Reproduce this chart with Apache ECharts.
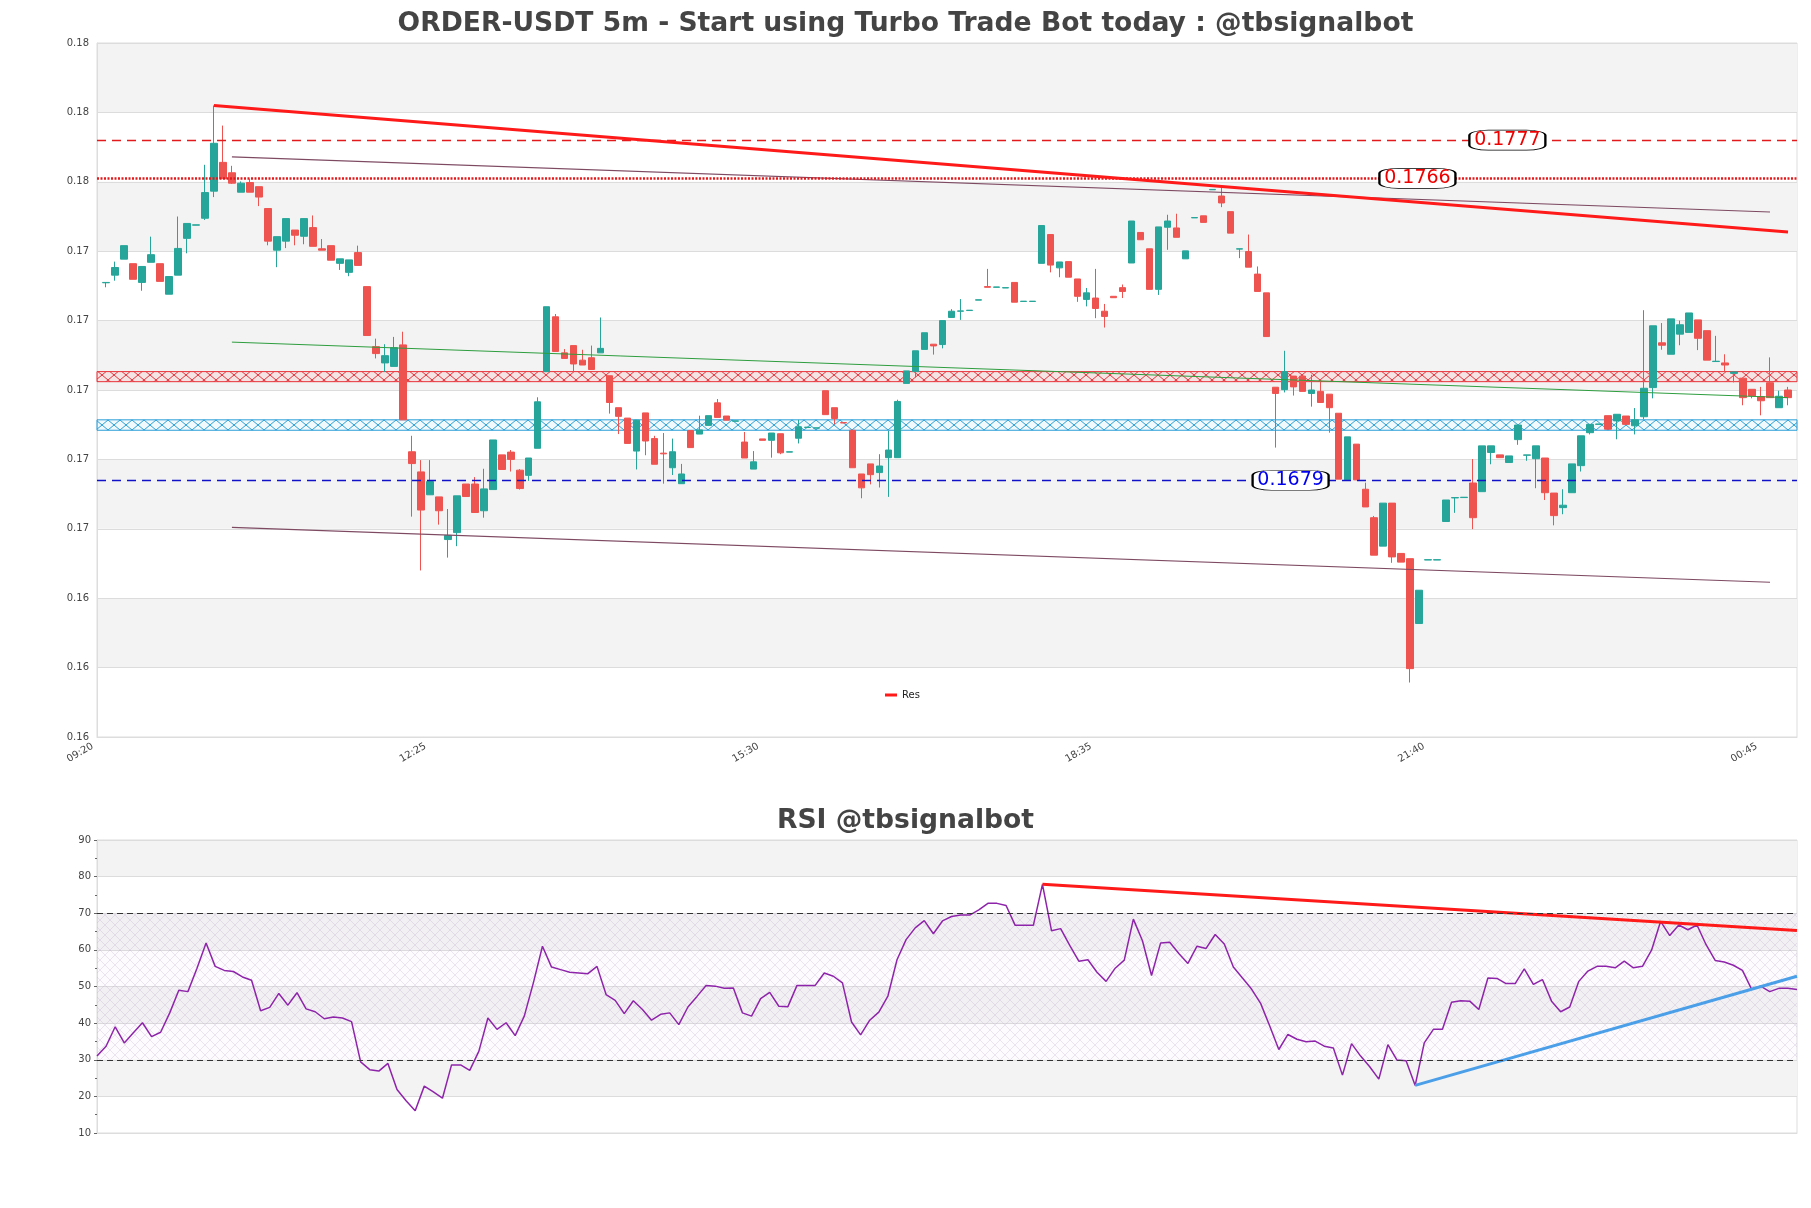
<!DOCTYPE html>
<html><head><meta charset="utf-8">
<script src="https://cdn.jsdelivr.net/npm/echarts@6/dist/echarts.min.js"></script>
<style>html,body{margin:0;padding:0;background:#fff}#c{width:1811px;height:1208px}</style>
</head><body><div id="c"></div>
<script>
// ---------- DATA ----------
const opens = [0.17359,0.17381,0.17427,0.17414,0.17360,0.17418,0.17414,0.17326,0.17381,0.17487,0.17525,0.17545,0.17623,0.17706,0.17676,0.17620,0.17648,0.17636,0.17573,0.17453,0.17479,0.17511,0.17493,0.17518,0.17457,0.17466,0.17415,0.17389,0.17446,0.17348,0.17175,0.17128,0.17118,0.17180,0.16872,0.16814,0.16748,0.16742,0.16619,0.16639,0.16779,0.16779,0.16702,0.16763,0.16863,0.16871,0.16819,0.16804,0.16882,0.17103,0.17261,0.17157,0.17178,0.17136,0.17143,0.17157,0.17091,0.16999,0.16969,0.16874,0.16984,0.16910,0.16868,0.16826,0.16780,0.16933,0.16923,0.16948,0.17013,0.16975,0.16960,0.16900,0.16822,0.16909,0.16905,0.16924,0.16871,0.16911,0.16942,0.16940,0.17048,0.16999,0.16956,0.16934,0.16808,0.16837,0.16812,0.16855,0.16855,0.17069,0.17103,0.17167,0.17182,0.17181,0.17259,0.17277,0.17279,0.17309,0.17348,0.17346,0.17344,0.17360,0.17305,0.17305,0.17415,0.17498,0.17402,0.17420,0.17370,0.17311,0.17315,0.17277,0.17320,0.17345,0.17416,0.17504,0.17457,0.17340,0.17519,0.17517,0.17428,0.17546,0.17552,0.17627,0.17609,0.17564,0.17456,0.17449,0.17384,0.17330,0.17058,0.17051,0.17090,0.17090,0.17040,0.17046,0.17038,0.16983,0.16791,0.16894,0.16764,0.16682,0.16600,0.16724,0.16579,0.16564,0.16377,0.16560,0.16560,0.16671,0.16739,0.16740,0.16782,0.16757,0.16870,0.16863,0.16841,0.16907,0.16862,0.16852,0.16854,0.16753,0.16711,0.16754,0.16832,0.16927,0.16951,0.16976,0.16961,0.16975,0.16947,0.16973,0.17057,0.17186,0.17153,0.17211,0.17216,0.17252,0.17221,0.17132,0.17128,0.17098,0.17084,0.17052,0.17031,0.17071,0.16999,0.17050];
const closes = [0.17360,0.17403,0.17466,0.17369,0.17406,0.17440,0.17363,0.17377,0.17458,0.17530,0.17526,0.17619,0.17761,0.17659,0.17646,0.17646,0.17620,0.17606,0.17479,0.17492,0.17544,0.17496,0.17544,0.17464,0.17453,0.17424,0.17428,0.17425,0.17409,0.17207,0.17155,0.17149,0.17172,0.16964,0.16838,0.16704,0.16786,0.16702,0.16631,0.16745,0.16743,0.16697,0.16765,0.16906,0.16821,0.16850,0.16766,0.16854,0.17016,0.17290,0.17161,0.17141,0.17125,0.17122,0.17109,0.17170,0.17014,0.16974,0.16896,0.16963,0.16903,0.16836,0.16866,0.16872,0.16808,0.16884,0.16935,0.16976,0.16971,0.16963,0.16961,0.16854,0.16843,0.16905,0.16926,0.16869,0.16872,0.16944,0.16943,0.16941,0.16979,0.16968,0.16955,0.16826,0.16768,0.16806,0.16831,0.16877,0.17017,0.17105,0.17163,0.17215,0.17177,0.17250,0.17277,0.17278,0.17280,0.17310,0.17346,0.17347,0.17345,0.17303,0.17306,0.17306,0.17524,0.17410,0.17419,0.17375,0.17320,0.17330,0.17285,0.17262,0.17316,0.17334,0.17537,0.17483,0.17340,0.17520,0.17537,0.17490,0.17451,0.17547,0.17533,0.17628,0.17589,0.17502,0.17457,0.17404,0.17334,0.17204,0.17040,0.17103,0.17059,0.17046,0.17050,0.17014,0.16999,0.16793,0.16915,0.16791,0.16713,0.16574,0.16724,0.16569,0.16554,0.16247,0.16473,0.16561,0.16561,0.16733,0.16740,0.16741,0.16682,0.16889,0.16889,0.16855,0.16860,0.16949,0.16863,0.16889,0.16754,0.16688,0.16718,0.16837,0.16918,0.16951,0.16952,0.16937,0.16980,0.16951,0.16964,0.17055,0.17235,0.17179,0.17255,0.17238,0.17272,0.17199,0.17136,0.17133,0.17122,0.17102,0.17028,0.17033,0.17019,0.17028,0.17032,0.17028];
const lows = [0.17346,0.17365,0.17427,0.17369,0.17336,0.17418,0.17363,0.17326,0.17381,0.17444,0.17525,0.17540,0.17606,0.17659,0.17644,0.17620,0.17620,0.17580,0.17467,0.17404,0.17459,0.17467,0.17470,0.17464,0.17453,0.17424,0.17396,0.17378,0.17409,0.17207,0.17141,0.17102,0.17118,0.16964,0.16685,0.16530,0.16748,0.16662,0.16567,0.16600,0.16743,0.16697,0.16682,0.16763,0.16821,0.16815,0.16763,0.16788,0.16882,0.17103,0.17161,0.17141,0.17103,0.17122,0.17109,0.17157,0.16982,0.16923,0.16896,0.16821,0.16862,0.16836,0.16780,0.16805,0.16780,0.16884,0.16923,0.16948,0.16971,0.16963,0.16960,0.16854,0.16822,0.16905,0.16855,0.16865,0.16871,0.16896,0.16942,0.16940,0.16979,0.16951,0.16955,0.16826,0.16738,0.16778,0.16769,0.16742,0.16855,0.17069,0.17086,0.17167,0.17152,0.17170,0.17259,0.17252,0.17279,0.17309,0.17346,0.17346,0.17344,0.17303,0.17305,0.17305,0.17415,0.17389,0.17375,0.17375,0.17304,0.17291,0.17257,0.17230,0.17316,0.17315,0.17416,0.17483,0.17340,0.17324,0.17454,0.17490,0.17428,0.17546,0.17533,0.17627,0.17577,0.17502,0.17430,0.17404,0.17334,0.17204,0.16884,0.17043,0.17034,0.17046,0.17002,0.17014,0.16927,0.16793,0.16791,0.16791,0.16713,0.16574,0.16600,0.16552,0.16554,0.16207,0.16377,0.16560,0.16560,0.16671,0.16696,0.16740,0.16649,0.16757,0.16836,0.16855,0.16841,0.16892,0.16846,0.16767,0.16733,0.16660,0.16692,0.16754,0.16815,0.16922,0.16951,0.16937,0.16908,0.16951,0.16922,0.16966,0.17026,0.17166,0.17153,0.17179,0.17216,0.17165,0.17136,0.17132,0.17103,0.17072,0.17006,0.17026,0.16977,0.17028,0.16999,0.17006];
const highs = [0.17360,0.17420,0.17466,0.17414,0.17406,0.17492,0.17414,0.17377,0.17550,0.17530,0.17526,0.17699,0.17870,0.17812,0.17696,0.17651,0.17659,0.17636,0.17573,0.17492,0.17544,0.17511,0.17544,0.17553,0.17485,0.17466,0.17428,0.17425,0.17466,0.17348,0.17198,0.17182,0.17203,0.17218,0.16918,0.16848,0.16848,0.16742,0.16707,0.16745,0.16779,0.16799,0.16823,0.16906,0.16863,0.16877,0.16822,0.16854,0.17029,0.17290,0.17269,0.17168,0.17178,0.17166,0.17178,0.17259,0.17091,0.16999,0.16969,0.16963,0.16984,0.16918,0.16926,0.16910,0.16837,0.16933,0.16976,0.16976,0.17024,0.16975,0.16961,0.16929,0.16874,0.16909,0.16926,0.16924,0.16872,0.16964,0.16943,0.16941,0.17048,0.16999,0.16956,0.16934,0.16808,0.16837,0.16865,0.16932,0.17022,0.17105,0.17163,0.17215,0.17182,0.17250,0.17283,0.17312,0.17280,0.17310,0.17399,0.17347,0.17345,0.17360,0.17306,0.17306,0.17524,0.17498,0.17419,0.17420,0.17370,0.17344,0.17399,0.17298,0.17320,0.17354,0.17537,0.17504,0.17457,0.17520,0.17555,0.17558,0.17451,0.17547,0.17552,0.17628,0.17634,0.17564,0.17457,0.17498,0.17406,0.17330,0.17058,0.17163,0.17090,0.17090,0.17094,0.17075,0.17038,0.16983,0.16915,0.16894,0.16783,0.16687,0.16724,0.16724,0.16579,0.16564,0.16473,0.16561,0.16561,0.16733,0.16740,0.16741,0.16851,0.16889,0.16889,0.16863,0.16860,0.16949,0.16863,0.16889,0.16854,0.16753,0.16764,0.16837,0.16918,0.16951,0.16952,0.16976,0.16980,0.16975,0.16998,0.17280,0.17235,0.17243,0.17255,0.17250,0.17272,0.17252,0.17221,0.17206,0.17153,0.17102,0.17084,0.17052,0.17059,0.17144,0.17048,0.17059];
const rsi = [31.0,33.7,39.0,34.6,37.4,40.1,36.3,37.5,42.8,49.0,48.6,55.0,61.9,55.5,54.4,54.1,52.6,51.7,43.4,44.3,48.1,44.9,48.3,43.9,43.1,41.2,41.7,41.4,40.4,29.4,27.3,26.9,29.0,21.9,18.8,16.1,22.8,21.2,19.5,28.6,28.6,27.1,32.3,41.4,38.3,40.1,36.6,41.9,51.0,61.0,55.3,54.6,53.9,53.7,53.5,55.5,47.8,46.2,42.6,46.1,43.7,40.8,42.4,42.8,39.6,44.4,47.3,50.3,50.1,49.5,49.6,42.8,41.9,46.7,48.4,44.6,44.5,50.3,50.3,50.3,53.7,52.8,51.0,40.3,36.8,40.8,43.0,47.4,57.3,62.8,66.0,68.0,64.4,67.9,69.1,69.5,69.5,70.9,72.7,72.7,72.1,66.7,66.7,66.7,77.9,65.2,65.8,61.2,56.9,57.3,53.9,51.4,55.0,57.2,68.4,62.5,53.0,61.9,62.1,59.0,56.3,61.0,60.4,64.2,61.6,55.3,52.3,49.3,45.4,39.2,32.8,36.9,35.6,34.9,35.1,33.7,33.2,25.8,34.4,31.0,28.1,24.7,34.1,29.9,29.7,23.0,34.6,38.3,38.3,45.7,46.1,46.0,43.7,52.3,52.2,50.8,50.8,54.8,50.6,51.9,46.0,43.1,44.4,51.4,54.2,55.5,55.5,55.1,56.9,55.1,55.5,59.9,67.8,63.9,66.8,65.5,66.8,61.4,57.1,56.7,55.8,54.4,49.3,50.1,48.6,49.5,49.5,49.2];
const xTickPos = [-1, 36, 73, 110, 147, 184];
const xTickLabels = ['09:20', '12:25', '15:30', '18:35', '21:40', '00:45'];
const levelValues = [0.1777, 0.1766, 0.1679];
const levelLabelPos = [155.8, 145.8, 131.7];
const resZone = [0.17074, 0.17103];
const supZone = [0.16934, 0.16964];
const resLine = [[12, 0.1787], [187, 0.17505]];
const upperChannel = [[14, 0.17722], [185, 0.17563]];
const lowerChannel = [[14, 0.16654], [185, 0.16496]];
const midLine = [[14, 0.17188], [187, 0.17028]];
const rsiRes = [[104, 77.9], [187, 65.3]];
const rsiSup = [[145, 23.0], [187, 52.8]];
const rsiBand = [30, 70];

// ---------- helpers ----------
function hatch(stroke, fill, w, h, lw) {
  const c = document.createElement('canvas'); c.width = w; c.height = h;
  const g = c.getContext('2d');
  if (fill) { g.fillStyle = fill; g.fillRect(0, 0, w, h); }
  g.strokeStyle = stroke; g.lineWidth = lw;
  g.beginPath();
  g.moveTo(0, 0); g.lineTo(w, h);
  g.moveTo(w, 0); g.lineTo(0, h);
  g.stroke();
  return c;
}
const candles = opens.map((o, i) => [i, o, closes[i], lows[i], highs[i]]);
const FONT = 'DejaVu Sans';

const chart = echarts.init(document.getElementById('c'), null, {renderer: 'canvas'});
const option = {
  animation: false,
  backgroundColor: '#fff',
  title: [
    {text: 'ORDER-USDT 5m - Start using Turbo Trade Bot today : @tbsignalbot', left: 'center', top: 11, padding: 0,
     textStyle: {fontFamily: FONT, fontWeight: 'bold', fontSize: 26.6, color: '#444'}},
    {text: 'RSI @tbsignalbot', left: 'center', top: 808, padding: 0,
     textStyle: {fontFamily: FONT, fontWeight: 'bold', fontSize: 26.6, color: '#444'}}
  ],
  legend: {data: ['Res'], left: 880, top: 685, icon: 'rect', itemWidth: 12, itemHeight: 3, itemGap: 5,
    textStyle: {fontFamily: FONT, fontSize: 10, color: '#222'}},
  grid: [
    {left: 97, top: 43, width: 1700, height: 694, show: true, borderColor: '#ddd', borderWidth: 1, backgroundColor: 'transparent'},
    {left: 97, top: 840, width: 1700, height: 293, show: true, borderColor: '#ddd', borderWidth: 1, backgroundColor: 'transparent'}
  ],
  xAxis: [
    {type: 'value', gridIndex: 0, min: -1, max: 188,
     axisLine: {show: true, onZero: false, lineStyle: {color: '#ddd'}}, axisTick: {show: false}, splitLine: {show: false},
     axisLabel: {customValues: xTickPos, rotate: 30, fontSize: 10, color: '#444', fontFamily: FONT, margin: 6, padding: [0, 5, 0, 0],
       formatter: v => { const k = xTickPos.indexOf(Math.round(v)); return k >= 0 ? xTickLabels[k] : ''; }}},
    {type: 'value', gridIndex: 1, min: 0, max: 187,
     axisLine: {show: true, onZero: false, lineStyle: {color: '#ddd'}}, axisTick: {show: false}, splitLine: {show: false}, axisLabel: {show: false}}
  ],
  yAxis: [
    {type: 'value', gridIndex: 0, min: 0.1605, max: 0.1805, interval: 0.002,
     axisLine: {show: true, onZero: false, lineStyle: {color: '#ddd'}}, axisTick: {show: false},
     axisLabel: {formatter: v => v.toFixed(2), fontSize: 10, color: '#444', fontFamily: FONT, margin: 8},
     splitLine: {show: true, lineStyle: {color: '#dcdcdc', width: 1}},
     splitArea: {show: true, areaStyle: {color: ['rgba(255,255,255,0)', '#f3f3f3']}}},
    {type: 'value', gridIndex: 1, min: 10, max: 90, interval: 10,
     axisLine: {show: true, onZero: false, lineStyle: {color: '#ddd'}},
     axisTick: {show: true, length: 3, lineStyle: {color: '#666'}},
     minorTick: {show: true, splitNumber: 2, length: 2, lineStyle: {color: '#666'}},
     axisLabel: {fontSize: 10, color: '#444', fontFamily: FONT, margin: 6},
     splitLine: {show: true, lineStyle: {color: '#dcdcdc', width: 1}},
     splitArea: {show: true, areaStyle: {color: ['rgba(255,255,255,0)', '#f3f3f3']}}}
  ],
  series: [
    {type: 'candlestick', name: 'Price', xAxisIndex: 0, yAxisIndex: 0, data: candles,
     encode: {x: 0, y: [1, 2, 3, 4]}, barWidth: 7,
     itemStyle: {color: '#26a69a', color0: '#ef5350', borderColor: '#26a69a', borderColor0: '#ef5350', borderWidth: 1}
    },
    {type: 'line', name: 'upper', xAxisIndex: 0, yAxisIndex: 0, data: upperChannel, symbol: 'none',
     lineStyle: {color: '#7d4a62', width: 1.2}, z: 3,
     markArea: {silent: true, data: [
       [{yAxis: resZone[0], itemStyle: {color: {image: hatch('#e8333a', 'rgba(255,120,120,0.12)', 12, 10, 1), repeat: 'repeat'}, borderColor: '#e8333a', borderWidth: 1}}, {yAxis: resZone[1]}],
       [{yAxis: supZone[0], itemStyle: {color: {image: hatch('#2a9fd8', 'rgba(120,200,240,0.10)', 12, 10, 1), repeat: 'repeat'}, borderColor: '#2a9fd8', borderWidth: 1}}, {yAxis: supZone[1]}]
     ]},
     markLine: {silent: true, symbol: 'none', precision: 6, label: {show: false}, data: [
       {yAxis: levelValues[0], lineStyle: {color: '#e31a1c', type: [9, 6], width: 1.3}},
       {yAxis: levelValues[1], lineStyle: {color: '#e31a1c', type: [2, 1.5], width: 2.6}},
       {yAxis: levelValues[2], lineStyle: {color: '#1010c8', type: [9, 6], width: 1.3}}
     ]}},
    {type: 'line', name: 'lower', xAxisIndex: 0, yAxisIndex: 0, data: lowerChannel, symbol: 'none',
     lineStyle: {color: '#7d4a62', width: 1.2}, z: 3},
    {type: 'line', name: 'mid', xAxisIndex: 0, yAxisIndex: 0, data: midLine, symbol: 'none',
     lineStyle: {color: '#2e9e3e', width: 1}, z: 3},
    {type: 'line', name: 'Res', xAxisIndex: 0, yAxisIndex: 0, data: resLine, symbol: 'none',
     color: '#ff1a1a', lineStyle: {color: '#ff1a1a', width: 3}, z: 5,
     markPoint: {silent: true, data: levelValues.map((v, k) => ({
       coord: [levelLabelPos[k], v], symbol: 'roundRect', symbolSize: [76, 20],
       itemStyle: {color: '#fff', borderColor: '#000', borderWidth: 1.2},
       label: {show: true, position: 'inside', formatter: v.toFixed(4), fontSize: 19, fontFamily: FONT,
         color: k === 2 ? '#0000ee' : '#ee0000'}
     }))}},
    {type: 'line', name: 'RSI', xAxisIndex: 1, yAxisIndex: 1, data: rsi.map((v, i) => [i, v]), symbol: 'none',
     lineStyle: {color: '#8e24aa', width: 1.5}, z: 3,
     markArea: {silent: true, data: [[{yAxis: rsiBand[0], itemStyle: {color: {image: hatch('rgba(175,150,200,0.30)', 'rgba(225,210,235,0.08)', 10, 10, 0.8), repeat: 'repeat'}}}, {yAxis: rsiBand[1]}]]},
     markLine: {silent: true, symbol: 'none', precision: 2, label: {show: false}, data: [
       {yAxis: rsiBand[1], lineStyle: {color: '#333', type: [6, 4], width: 1.2}},
       {yAxis: rsiBand[0], lineStyle: {color: '#333', type: [6, 4], width: 1.2}}
     ]}},
    {type: 'line', name: 'rsiRes', xAxisIndex: 1, yAxisIndex: 1, data: rsiRes, symbol: 'none',
     lineStyle: {color: '#ff1a1a', width: 3}, z: 4},
    {type: 'line', name: 'rsiSup', xAxisIndex: 1, yAxisIndex: 1, data: rsiSup, symbol: 'none',
     lineStyle: {color: '#4a9fe8', width: 3}, z: 4}
  ]
};
chart.setOption(option);
</script>
</body></html>
